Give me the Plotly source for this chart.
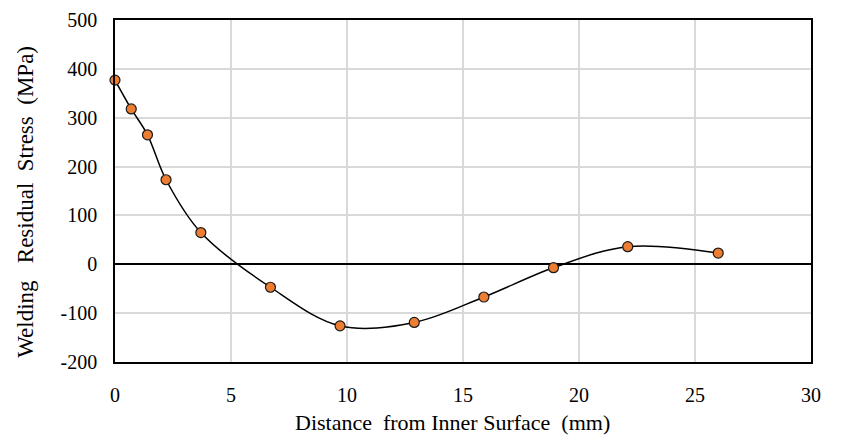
import plotly.graph_objects as go

distance_mm = [0, 0.7, 1.4, 2.2, 3.7, 6.7, 9.7, 12.9, 15.9, 18.9, 22.1, 26.0]
stress_mpa = [377, 318, 265, 173, 65, -47, -126, -119, -67, -7, 36, 23]

x_ticks = [0, 5, 10, 15, 20, 25, 30]
y_ticks = [-200, -100, 0, 100, 200, 300, 400, 500]
y_tick_labels = ["-200", "-100", "0", "100", "200", "300", "400", "500"]

font_family = "Liberation Serif"
NB = "\u00a0"
x_title = f"Distance{NB} from Inner Surface{NB} (mm)"
y_title = f"Welding{NB}{NB} Residual{NB} Stress{NB} (MPa)"

fig = go.Figure()
fig.add_trace(go.Scatter(
    x=distance_mm, y=stress_mpa,
    mode="lines+markers",
    line=dict(color="black", width=1.5, shape="spline", smoothing=1),
    marker=dict(color="#ED7D31", size=10, line=dict(color="#1a1a1a", width=1.2)),
    showlegend=False,
    cliponaxis=False,
))

fig.update_layout(
    width=845, height=437,
    margin=dict(l=115, r=34, t=20, b=75),
    paper_bgcolor="white", plot_bgcolor="white",
    font=dict(family=font_family, size=20, color="black"),
    annotations=[
        dict(text=x_title, xref="paper", yref="paper", x=0.4856, y=-0.1765,
             xanchor="center", yanchor="middle", showarrow=False,
             font=dict(family=font_family, size=22, color="black")),
        dict(text=y_title, xref="paper", yref="paper", x=-0.1284, y=0.4674,
             xanchor="center", yanchor="middle", showarrow=False, textangle=-90,
             font=dict(family=font_family, size=23, color="black")),
    ],
)
fig.update_xaxes(
    range=[0, 30], tickvals=x_ticks,
    showgrid=True, gridcolor="#d9d9d9", gridwidth=1.5,
    showline=True, linecolor="black", linewidth=1.5, mirror=True,
    zeroline=False, ticks="", ticklen=0, ticklabelstandoff=14,
    automargin=False,
    tickfont=dict(family=font_family, size=20),
)
fig.update_yaxes(
    range=[-200, 500], tickvals=y_ticks, ticktext=y_tick_labels,
    showgrid=True, gridcolor="#d9d9d9", gridwidth=1.5,
    showline=True, linecolor="black", linewidth=1.5, mirror=True,
    zeroline=True, zerolinecolor="black", zerolinewidth=1.5,
    ticks="", ticklen=0, ticklabelstandoff=12,
    automargin=False,
    tickfont=dict(family=font_family, size=20),
)

fig.write_html("out.html")
